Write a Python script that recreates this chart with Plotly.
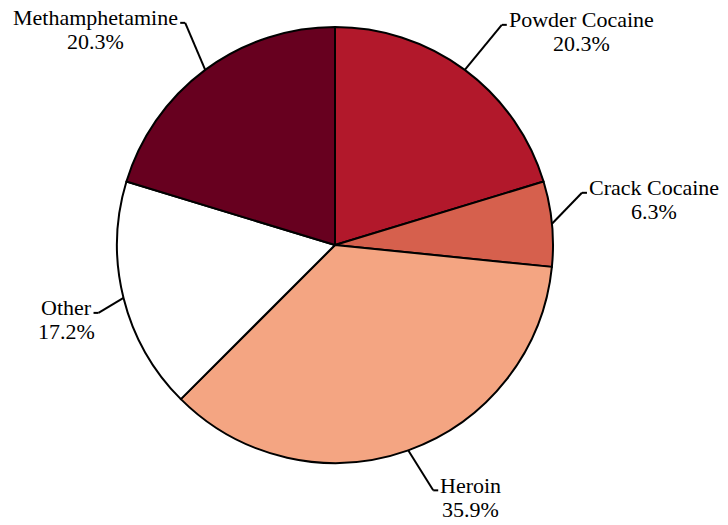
import math
import plotly.graph_objects as go

# ---- data ----
categories = ["Powder Cocaine", "Crack Cocaine", "Heroin", "Other", "Methamphetamine"]
shares = [20.3, 6.3, 35.9, 17.2, 20.3]

# ---- style ----
colors = ["#b2182b", "#d6604d", "#f4a582", "#ffffff", "#67001f"]
OFF = 8                             # page body margin
W, H = 728 - OFF, 525 - 2 * OFF
CX, CY, R = 335 - OFF, 245 - OFF, 218   # pie centre / radius in pixels
# leader elbow offsets from slice edge (px)
elbow_offsets = [(37, -45), (30, -31), (25, 40), (-25, 15), (-20, -47)]
tick_len = 5
text_gap = 2
FONT = "Liberation Serif"
FSIZE = 22
LINE_GAP = 24

# Times / Liberation Serif advance widths (1/1000 em) used to centre the 2-line labels
_TW = {"P": 556, "o": 500, "w": 722, "d": 500, "e": 444, "r": 333, " ": 250,
       "C": 667, "c": 444, "a": 444, "i": 278, "n": 500, "k": 500, "H": 722,
       "O": 722, "t": 278, "h": 500, "M": 889, "m": 778, "p": 500, ".": 250,
       "%": 833}


def text_width(s):
    return sum(_TW.get(ch, 500) for ch in s) / 1000 * FSIZE


def px2paper(x, y):
    return x / W, 1 - y / H


fig = go.Figure(go.Pie(
    labels=categories,
    values=shares,
    sort=False,
    direction="clockwise",
    rotation=0,
    marker=dict(colors=colors, line=dict(color="black", width=2)),
    textinfo="none",
    hoverinfo="label+percent",
    showlegend=False,
    domain=dict(x=[(CX - R) / W, (CX + R) / W],
                y=[1 - (CY + R) / H, 1 - (CY - R) / H]),
))

shapes = []
annotations = []
total = sum(shares)
cum = 0.0
for name, v, (dx, dy) in zip(categories, shares, elbow_offsets):
    mid = (cum + v / 2) / total * 2 * math.pi
    cum += v
    ex = CX + R * math.sin(mid)
    ey = CY - R * math.cos(mid)
    bx, by = ex + dx, ey + dy
    side = 1 if dx > 0 else -1
    tx = bx + side * tick_len
    for (x0, y0, x1, y1) in [(ex, ey, bx, by), (bx, by, tx, by)]:
        p0 = px2paper(x0, y0)
        p1 = px2paper(x1, y1)
        shapes.append(dict(type="line", xref="paper", yref="paper",
                           x0=p0[0], y0=p0[1], x1=p1[0], y1=p1[1],
                           line=dict(color="black", width=2)))
    wname = text_width(name)
    xc = tx + side * (text_gap + wname / 2)
    y1c = by - 5
    for txt, yc in [(name, y1c), (f"{v:.1f}%", y1c + LINE_GAP)]:
        ax, ay = px2paper(xc, yc)
        annotations.append(dict(
            x=ax, y=ay, xref="paper", yref="paper",
            text=txt, showarrow=False,
            xanchor="center", yanchor="middle", borderpad=0,
            font=dict(family=FONT, size=FSIZE, color="black"),
        ))

fig.update_layout(
    width=W, height=H,
    margin=dict(l=0, r=0, t=0, b=0),
    paper_bgcolor="white", plot_bgcolor="white",
    shapes=shapes, annotations=annotations,
)

fig.write_html("out.html")
